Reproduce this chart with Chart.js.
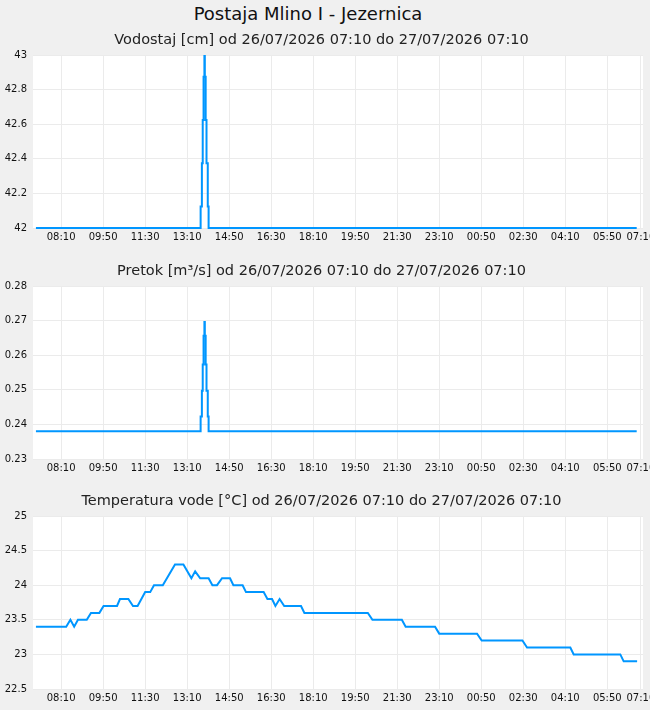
<!DOCTYPE html>
<html>
<head>
<meta charset="utf-8">
<script src="https://cdn.jsdelivr.net/npm/chart.js@4"></script>
<style>
  body { margin:0; background:#f0f0f0; width:650px; height:710px; overflow:hidden; }
  #title { position:absolute; top:3px; left:0; width:616px; height:28px; line-height:28px;
           text-align:center; font:18px 'DejaVu Sans'; color:#111; }
  canvas { position:absolute; left:0; }
</style>
</head>
<body>
<div id="title">Postaja Mlino I - Jezernica</div>
<canvas id="levelChart" width="650" height="222" style="top:26px"></canvas>
<canvas id="flowChart" width="650" height="222" style="top:257px"></canvas>
<canvas id="tempChart" width="650" height="222" style="top:487px"></canvas>
<script>
// minute offsets from 26/07/2026 07:10
const xTickMinutes = [60,160,260,360,460,560,660,760,860,960,1060,1160,1260,1360,1440];
const xTickLabels = ['08:10','09:50','11:30','13:10','14:50','16:30','18:10','19:50','21:30','23:10','00:50','02:30','04:10','05:50','07:10'];

// vodostaj [cm]
const levelMinutes = [0,392,395,397,399,401,402,404,406,409,411,1430];
const levelValues  = [42,42.125,42.375,42.625,42.875,43,42.875,42.625,42.375,42.125,42,42];

// pretok [m3/s]
const flowMinutes = [0,392,395,397,399,401,402,404,406,409,411,1430];
const flowValues  = [0.238,0.2423,0.2497,0.2573,0.2656,0.2696,0.2656,0.2573,0.2497,0.2423,0.238,0.238];

// temperatura vode [°C]
const tempMinutes = [0,72,82,91,100,121,131,151,161,193,200,220,231,242,260,272,281,302,331,351,
  370,379,391,411,420,431,443,462,470,492,500,542,551,562,570,580,591,631,639,790,
  801,871,880,950,960,1050,1061,1158,1169,1272,1280,1391,1399,1431];
const tempValues = [23.4,23.4,23.5,23.4,23.5,23.5,23.6,23.6,23.7,23.7,23.8,23.8,23.7,23.7,23.9,23.9,24.0,24.0,24.3,24.3,
  24.1,24.2,24.1,24.1,24.0,24.0,24.1,24.1,24.0,24.0,23.9,23.9,23.8,23.8,23.7,23.8,23.7,23.7,23.6,23.6,
  23.5,23.5,23.4,23.4,23.3,23.3,23.2,23.2,23.1,23.1,23.0,23.0,22.9,22.9];

Chart.defaults.font.family = "'DejaVu Sans'";
Chart.defaults.color = '#111';

// white plot area
const plotBg = {
  id: 'plotBg',
  beforeDraw(chart) {
    const {ctx, chartArea: a} = chart;
    ctx.save();
    ctx.fillStyle = '#fff';
    ctx.fillRect(a.left, a.top, a.right - a.left, a.bottom - a.top);
    ctx.restore();
  }
};

function makeChart(id, title, minutes, values, yMin, yMax, yStep, stepped, lineWidth) {
  const pts = minutes.map((m, i) => ({x: m, y: values[i]}));
  return new Chart(document.getElementById(id), {
    type: 'line',
    data: {
      datasets: [{
        data: pts,
        borderColor: '#0096ff',
        borderWidth: lineWidth,
        pointRadius: 0,
        tension: 0,
        stepped: stepped,
        clip: {left: 0, right: 0, top: 0, bottom: 2}
      }]
    },
    options: {
      responsive: false,
      animation: false,
      layout: {padding: {left: 0, right: 7, top: 0, bottom: 0}},
      plugins: {
        legend: {display: false},
        tooltip: {enabled: false},
        title: {
          display: true,
          text: title,
          color: '#222',
          font: {size: 14.5, weight: 'normal', lineHeight: 1.2},
          padding: {top: 6, bottom: 5.6}
        }
      },
      scales: {
        x: {
          type: 'linear',
          min: -7,
          max: 1445,
          border: {display: false},
          grid: {color: '#ebebeb', drawTicks: false},
          afterBuildTicks: s => { s.ticks = xTickMinutes.map(v => ({value: v})); },
          afterFit: s => { s.height = 20; s.paddingLeft = 0; s.paddingRight = 0; },
          ticks: {
            autoSkip: false, maxRotation: 0, padding: 3,
            font: {size: 10},
            callback: (v, i) => xTickLabels[i]
          }
        },
        y: {
          min: yMin,
          max: yMax,
          border: {display: false},
          grid: {color: '#ebebeb', drawTicks: false},
          afterFit: s => { s.width = 33; s.paddingTop = 0; s.paddingBottom = 0; },
          ticks: {
            stepSize: yStep, padding: 6, font: {size: 10},
            callback: v => String(+v.toFixed(3))
          }
        }
      }
    },
    plugins: [plotBg]
  });
}

makeChart('levelChart', 'Vodostaj [cm] od 26/07/2026 07:10 do 27/07/2026 07:10',
  levelMinutes, levelValues, 42, 43, 0.2, 'before', 2);
makeChart('flowChart', 'Pretok [m³/s] od 26/07/2026 07:10 do 27/07/2026 07:10',
  flowMinutes, flowValues, 0.23, 0.28, 0.01, 'before', 2);
makeChart('tempChart', 'Temperatura vode [°C] od 26/07/2026 07:10 do 27/07/2026 07:10',
  tempMinutes, tempValues, 22.5, 25, 0.5, false, 2);
</script>
</body>
</html>
